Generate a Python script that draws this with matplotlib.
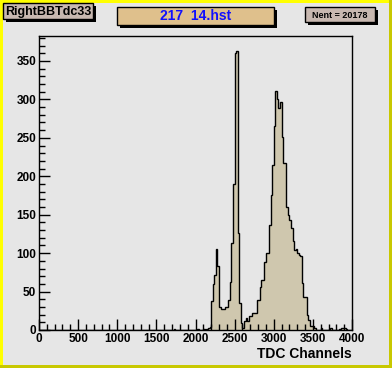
import numpy as np
import matplotlib.pyplot as plt
from matplotlib.patches import Rectangle
from matplotlib.ticker import MultipleLocator

plt.rcParams['font.family'] = ['Liberation Sans', 'DejaVu Sans']

# histogram: 200 bins of 20 TDC channels between 0 and 4000
bin_width = 20
bin_edges = np.arange(0, 4000 + bin_width, bin_width)

# non-empty bins (bin start -> counts)
bin_starts = [1720, 2020, 2100, 2140, 2160, 2180,
              2200, 2220, 2240, 2260, 2280, 2300, 2320, 2340, 2360, 2380,
              2400, 2420, 2440, 2460, 2480, 2500, 2520, 2540, 2560, 2580,
              2600, 2620, 2640, 2660, 2680, 2700, 2720, 2740, 2760, 2780,
              2800, 2820, 2840, 2860, 2880, 2900, 2920, 2940, 2960, 2980,
              3000, 3020, 3040, 3060, 3080, 3100, 3120, 3140, 3160, 3180,
              3200, 3220, 3240, 3260, 3280, 3300, 3320, 3340, 3360, 3380,
              3400, 3420, 3440, 3460, 3480, 3500, 3520,
              3600, 3700, 3720, 3840, 3860, 3880, 3900, 3920]
bin_counts = [1, 1, 1, 1, 3, 4,
              38, 60, 72, 105, 83, 30, 27, 27, 27, 30,
              30, 39, 63, 113, 190, 360, 363, 126, 35, 9,
              3, 12, 15, 12, 18, 18, 22, 22, 22, 39,
              39, 56, 65, 65, 89, 100, 100, 137, 175, 215,
              265, 311, 301, 289, 297, 251, 217, 217, 160, 150,
              143, 133, 116, 104, 105, 100, 98, 96, 61, 43,
              43, 20, 13, 5, 5, 5, 3,
              2, 1, 2, 1, 3, 3, 2, 1]

counts = np.zeros(len(bin_edges) - 1)
for start, n in zip(bin_starts, bin_counts):
    counts[start // bin_width] = n

hist_name = "RightBBTdc33"
file_name = "217  14.hst"
n_entries = 20178
x_label = "TDC Channels"

bg = '#e6e6e6'
fig = plt.figure(figsize=(3.92, 3.68), dpi=100)
fig.patch.set_facecolor(bg)

# yellow/olive bevel round the canvas
W, H = 392, 368
def px_rect(x, y, w, h, **kw):
    fig.patches.append(Rectangle((x / W, 1 - (y + h) / H), w / W, h / H,
                                 transform=fig.transFigure, figure=fig, **kw))

px_rect(0, 0, 392, 3, facecolor='#ffff00', edgecolor='none')
px_rect(0, 0, 3, 368, facecolor='#ffff00', edgecolor='none')
px_rect(389, 0, 3, 368, facecolor='#c8c800', edgecolor='none')
px_rect(0, 365, 392, 3, facecolor='#c8c800', edgecolor='none')

ax = fig.add_axes([39 / W, 1 - 330 / H, 313 / W, 294 / H])
ax.set_facecolor(bg)

ax.stairs(counts, bin_edges, fill=True, color='#cfc7ae')
ax.stairs(counts, bin_edges, color='black', linewidth=1.0)

ax.set_xlim(0, 4000)
ax.set_ylim(0, 382.5)

ax.xaxis.set_major_locator(MultipleLocator(500))
ax.xaxis.set_minor_locator(MultipleLocator(100))
ax.yaxis.set_major_locator(MultipleLocator(50))
ax.yaxis.set_minor_locator(MultipleLocator(10))
ax.tick_params(which='both', direction='in', width=1, color='black',
               labelsize=8.5, pad=2)
ax.tick_params(which='major', length=8)
ax.tick_params(which='minor', length=4)
for lab in ax.get_xticklabels() + ax.get_yticklabels():
    lab.set_fontweight('bold')
for sp in ax.spines.values():
    sp.set_linewidth(1)

fig.text(352 / W, 1 - 354 / H, x_label, ha='right', va='center',
         fontsize=10, fontweight='bold')

# title boxes with drop shadows
def label_box(x, y, w, h, fc, text, color, size):
    px_rect(x + 3, y + 3, w, h, facecolor='black', edgecolor='none')
    px_rect(x, y, w, h, facecolor=fc, edgecolor='black', linewidth=1)
    fig.text((x + w / 2) / W, 1 - (y + h / 2 + 0.5) / H, text, ha='center',
             va='center', fontsize=size, color=color, fontweight='bold')

label_box(3, 3, 90, 16, '#c8b8b0', hist_name, 'black', 9)
label_box(117, 7, 157, 18, '#dfc08c', file_name, '#1010ff', 10)
label_box(305, 7, 70, 15, '#c8b8b0', f"Nent = {n_entries}", 'black', 6.5)

fig.savefig('out.png', dpi=100, facecolor=bg)
